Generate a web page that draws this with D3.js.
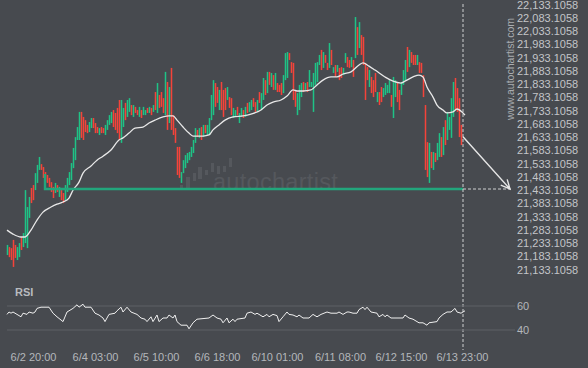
<!DOCTYPE html>
<html><head><meta charset="utf-8">
<script src="https://cdn.jsdelivr.net/npm/d3@7"></script>
<style>html,body{margin:0;padding:0;background:#474a4f;overflow:hidden}svg{display:block;font-family:"Liberation Sans",Arial,sans-serif}</style>
</head><body><svg id="c" width="588" height="368"></svg>
<script>
// ---- data ----
const highs = [
21222,21214,21210,21241,21222,21214,21229,21252,21267,21429,
21365,21403,21437,21448,21493,21524,21554,21527,21516,21497,
21486,21475,21459,21441,21456,21448,21441,21429,21418,21448,
21475,21497,21531,21588,21629,21667,21724,21724,21705,21693,
21675,21686,21701,21701,21682,21667,21663,21667,21663,21675,
21693,21712,21724,21731,21720,21739,21769,21769,21739,21758,
21769,21776,21750,21750,21743,21731,21743,21731,21743,21731,
21739,21743,21739,21750,21799,21833,21788,21799,21776,21875,
21837,21818,21890,21712,21663,21592,21592,21497,21542,21561,
21569,21573,21592,21618,21663,21656,21663,21667,21675,21675,
21675,21701,21788,21844,21833,21818,21807,21837,21807,21814,
21818,21780,21776,21739,21731,21743,21720,21739,21731,21743,
21758,21761,21769,21776,21761,21769,21799,21795,21852,21844,
21875,21875,21871,21863,21871,21833,21826,21833,21863,21946,
21950,21946,21912,21909,21807,21795,21826,21833,21837,21833,
21837,21882,21837,21871,21909,21912,21939,21958,21950,21939,
21909,21984,21958,21893,21901,21901,21890,21893,21890,21946,
21931,21920,21931,21920,22082,22044,22063,22014,22007,21909,
21893,21882,21856,21844,21871,21799,21799,21818,21814,21833,
21826,21844,21788,21856,21844,21833,21807,21837,21882,21920,
21969,21958,21950,21939,21939,21939,21912,21909,21863,21750,
21610,21607,21573,21573,21569,21607,21644,21629,21667,21693,
21724,21705,21776,21837,21852,21814,21776,21675];
const lows = [
21184,21176,21165,21139,21173,21165,21176,21203,21214,21229,
21210,21324,21380,21391,21429,21456,21505,21505,21475,21459,
21456,21441,21422,21399,21418,21422,21403,21391,21380,21391,
21422,21448,21467,21512,21542,21618,21618,21626,21618,21648,
21644,21648,21663,21663,21644,21644,21637,21644,21644,21637,
21656,21675,21682,21667,21656,21644,21618,21607,21667,21693,
21705,21724,21712,21705,21720,21712,21705,21701,21712,21712,
21720,21720,21712,21724,21731,21720,21739,21743,21720,21712,
21656,21682,21656,21637,21607,21486,21475,21456,21493,21512,
21531,21542,21554,21569,21607,21629,21626,21618,21629,21644,
21637,21637,21693,21712,21743,21758,21731,21731,21705,21731,
21769,21739,21712,21701,21705,21712,21682,21705,21701,21705,
21720,21724,21731,21743,21724,21724,21758,21731,21769,21788,
21795,21826,21818,21807,21807,21799,21799,21788,21795,21844,
21852,21920,21871,21769,21743,21712,21731,21780,21799,21807,
21799,21818,21818,21724,21826,21837,21901,21882,21890,21909,
21882,21890,21901,21871,21856,21875,21844,21852,21863,21909,
21893,21890,21893,21856,21927,21939,21965,21939,21901,21769,
21844,21818,21795,21780,21799,21761,21750,21761,21780,21788,
21795,21795,21743,21701,21780,21761,21731,21788,21826,21844,
21875,21893,21909,21901,21901,21901,21871,21871,21780,21505,
21478,21456,21512,21505,21535,21542,21554,21554,21561,21599,
21618,21656,21626,21705,21731,21724,21629,21599];
// G = up (green) candle, R = down (red) candle
const directions = ("GRRRRGGRGG"+"GGRRGGGRRR"+"RRRRGRGRRG"+"GGGGGGGRRR"+"RGGRRRGRRG"+
  "GGGRRRRGGR"+"GGRGRRGRGG"+"RGRGRGRRRG"+"RGRRRRRGGG"+"GGGGGRGRGR"+
  "GGGGRRGRRR"+"GRRGGRGGRG"+"RGGRRGRGGR"+"GRGRGRRRGG"+"GRRRRGGGRG"+
  "RGGGGGGRGR"+"RGRGRGRRGG"+"RRGRGRGRRR"+"RGRRRGRRGG"+"GGRGGRRGGG"+
  "RGRRRGRRRR"+"RGRGRGGRGR"+"GGGGRRRR").split("");

const maIdx = [0,3,7,9,12,15,18,22,25,28,31,33,36,38,42,45,48,52,56,58,61,64,68,71,74,78,81,83,85,88,91,93,98,101,103,106,109,113,118,122,127,130,133,137,140,143,145,148,152,155,158,162,165,168,172,176,178,181,184,189,193,197,199,203,206,208,210,213,215,218,220,223,225,227.5,229];
const maVals = [21278,21263,21252,21252,21278,21316,21346,21365,21376,21384,21399,21429,21459,21493,21520,21542,21557,21580,21618,21626,21644,21663,21667,21682,21693,21705,21709,21709,21693,21667,21644,21633,21633,21637,21656,21675,21693,21705,21709,21716,21731,21750,21761,21769,21784,21807,21803,21803,21807,21826,21844,21856,21856,21867,21875,21901,21909,21897,21882,21856,21840,21833,21840,21856,21863,21856,21818,21780,21750,21731,21720,21724,21735,21724,21712];

const rsiIdx = [0,1,2,3,4,5,7,8,10,11,13,14,15,17,21,23,25,28,30,33,35,36,38,39,42,44,46,48,49,51,54,55,57,58,60,62,65,67,69,70,72,73,75,76,78,80,81,83,84,85,87,90,91,93,95,101,103,105,107,108,110,111,113,114,115,119,120,122,124,125,128,130,131,133,135,136,138,140,141,143,145,146,148,151,153,155,157,160,162,165,166,168,170,171,173,175,176,178,179,180,182,185,186,188,189,190,192,198,199,201,203,205,206,208,210,211,215,216,218,220,222,224,225,227,229];
const rsiVals = [53,55,54,55,54,53,51,54,53,55,54,55,58,59,59,54,51,47,55,58,61,59,61.5,59,59,54,52.5,50,47,53,54,56,59,55,59,55,53,50,49,47,51,47,52.5,47,50,50,52.5,50,52.5,47,44,44,41,46,49,50,52.5,50,49,46,50,46,49,47,49,50,54,55,53,54,51,53,51,53,52,47,51,55,53,52.5,51,52.5,50,50,53,51,53,55,54,54,55,53,55,55,54,54,57,59,57,59,55,54,51,53,51,52.5,50,50,52.5,50,49,47,46,46,44,46,47,50,53,55,55,58,55,54,56];

const priceTicks = d3.range(21133.1058, 22133.2, 50);
const supportLevel = 21433.1058;
const supportStartIdx = 19, supportTickTop = 21490;
const nowIdx = 228;           // dashed "current" marker
const arrowStartPrice = 21630, arrowEndIdx = 251.5, projEndIdx = 253;
const xTickIdx = [13,44,74.5,105,135,166.5,197,227.5];
const xTickLabels = ["6/2 20:00","6/4 03:00","6/5 10:00","6/6 18:00","6/10 01:00","6/11 08:00","6/12 15:00","6/13 23:00"];
const rsiTicks = [40,60];

// ---- drawing ----
const W=588,H=368;
const svg=d3.select("#c");
svg.append("rect").attr("width",W).attr("height",H).attr("fill","#474a4f");

const x=d3.scaleLinear().domain([0,227]).range([7,461]);
const y=d3.scaleLinear().domain([21133.1058,22133.1058]).range([268.5,3.5]);
const yr=d3.scaleLinear().domain([40,60]).range([330,306]);

// watermark logo + text
const logo=[[0,27,3,5],[6,19,4,13],[13,15,3,8],[18,9,4,12],[25,12,3,5],[31,5,3,9],[37,8,3,8],[43,8,3,6],[49,0,3,9]];
svg.append("g").attr("transform","translate(180,158)").selectAll("rect").data(logo).join("rect")
  .attr("x",d=>d[0]).attr("y",d=>d[1]).attr("width",d=>d[2]).attr("height",d=>d[3]).attr("fill","#55585d");
svg.append("text").attr("x",213).attr("y",190).attr("font-size",23.5).attr("fill","#55585d")
  .attr("letter-spacing",0.3).text("autochartist");

// vertical site text
svg.append("text").attr("transform","translate(514,69) rotate(-90)").attr("text-anchor","middle")
  .attr("font-size",10.5).attr("fill","#a9acb0").text("www.autochartist.com");

// candles (drawn as coloured high-low bars)
const cw=1.5;
svg.append("g").selectAll("rect").data(highs).join("rect")
  .attr("x",(d,i)=>x(i)-cw/2+0.5)
  .attr("y",(d,i)=>y(highs[i]))
  .attr("width",cw)
  .attr("height",(d,i)=>Math.max(1,y(lows[i])-y(highs[i])))
  .attr("fill",(d,i)=>directions[i]==="G"?"#1fc386":"#f5433a");

// moving average
svg.append("path").datum(maIdx.map((d,i)=>[d,maVals[i]]))
  .attr("fill","none").attr("stroke","#e8e8e8").attr("stroke-width",1.3)
  .attr("d",d3.line().x(d=>x(d[0])).y(d=>y(d[1])).curve(d3.curveMonotoneX));

// support line
const sy=y(supportLevel);
svg.append("path").attr("fill","none").attr("stroke","#22a67c").attr("stroke-width",2.4)
  .attr("d",`M${x(supportStartIdx)},${y(supportTickTop)}L${x(supportStartIdx)},${sy}L${x(nowIdx)},${sy}`);

// dashed lines
svg.append("line").attr("x1",x(nowIdx)).attr("x2",x(nowIdx)).attr("y1",4).attr("y2",350)
  .attr("stroke","#cfd0d2").attr("stroke-width",1).attr("stroke-dasharray","3,2");
svg.append("line").attr("x1",x(nowIdx)).attr("x2",x(projEndIdx)).attr("y1",sy).attr("y2",sy)
  .attr("stroke","#cfd0d2").attr("stroke-width",1).attr("stroke-dasharray","3,2");

// arrow
const ax0=x(nowIdx), ay0=y(arrowStartPrice), ax1=x(arrowEndIdx), ay1=sy;
const ang=Math.atan2(ay1-ay0,ax1-ax0), hl=10, ha=0.45;
svg.append("path").attr("fill","none").attr("stroke","#e6e6e6").attr("stroke-width",1.4)
  .attr("d",`M${ax0},${ay0}L${ax1},${ay1}M${ax1-hl*Math.cos(ang-ha)},${ay1-hl*Math.sin(ang-ha)}L${ax1},${ay1}L${ax1-hl*Math.cos(ang+ha)},${ay1-hl*Math.sin(ang+ha)}`);

// price axis
const ya=svg.append("g").attr("transform","translate(517,0)")
  .call(d3.axisRight(y).tickValues(priceTicks).tickFormat(d3.format(",.4f")).tickSize(0).tickPadding(0));
ya.select(".domain").remove();
ya.selectAll("text").attr("dy","0.42em").attr("fill","#c3c5c8").attr("font-size",11).attr("font-family","Liberation Sans, Arial, sans-serif");

// RSI panel
svg.append("g").selectAll("line").data(rsiTicks).join("line")
  .attr("x1",7).attr("x2",515).attr("y1",d=>yr(d)).attr("y2",d=>yr(d))
  .attr("stroke","#5e6166").attr("stroke-width",1);
const ra=svg.append("g").attr("transform","translate(517,0)")
  .call(d3.axisRight(yr).tickValues(rsiTicks).tickSize(0).tickPadding(0));
ra.select(".domain").remove();
ra.selectAll("text").attr("fill","#b4b7bb").attr("font-size",11).attr("font-family","Liberation Sans, Arial, sans-serif");
svg.append("text").attr("x",15).attr("y",295.5).attr("font-size",11).attr("font-weight","bold")
  .attr("fill","#b8bbbf").text("RSI");
svg.append("path").datum(rsiIdx.map((d,i)=>[d,rsiVals[i]]))
  .attr("fill","none").attr("stroke","#f0f0f0").attr("stroke-width",1)
  .attr("d",d3.line().x(d=>x(d[0])).y(d=>yr(d[1])));

// time axis
const xa=svg.append("g").attr("transform","translate(0,353)")
  .call(d3.axisBottom(x).tickValues(xTickIdx).tickFormat((d,i)=>xTickLabels[i]).tickSize(0).tickPadding(0));
xa.select(".domain").remove();
xa.selectAll("text").attr("fill","#b4b7bb").attr("font-size",11).attr("font-family","Liberation Sans, Arial, sans-serif");
</script></body></html>
